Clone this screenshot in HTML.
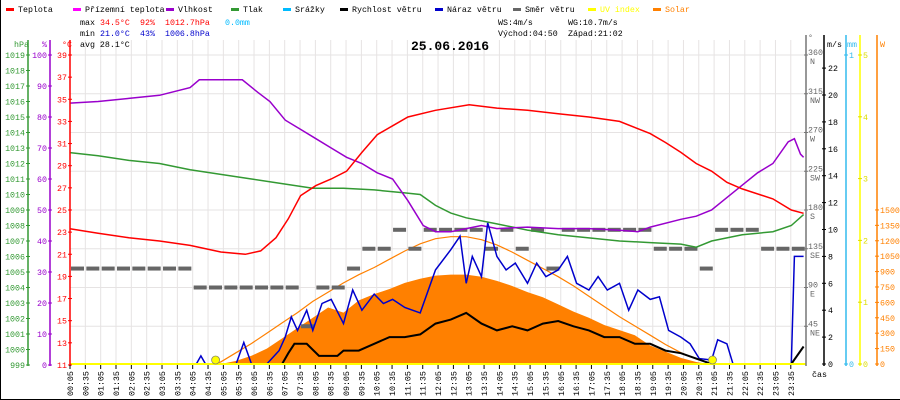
<!DOCTYPE html>
<html><head><meta charset="utf-8"><style>
body{margin:0;background:#fff;}
svg{display:block;font-family:"Liberation Mono",monospace;font-size:8.3px;}
</style></head><body>
<svg id="c" width="900" height="400" xmlns="http://www.w3.org/2000/svg">
<rect width="900" height="400" fill="#fff"/>
<g id="grid"></g>
<g id="series"></g>
<g id="axes"></g>
<g id="legend"></g>
<g>
<text x="80" y="25" fill="#000">max</text><text x="100" y="25" fill="#f00">34.5°C</text><text x="140" y="25" fill="#f00">92%</text><text x="165" y="25" fill="#f00">1012.7hPa</text><text x="225" y="25" fill="#0bf">0.0mm</text>
<text x="80" y="36" fill="#000">min</text><text x="100" y="36" fill="#00c">21.0°C</text><text x="140" y="36" fill="#00c">43%</text><text x="165" y="36" fill="#00c">1006.8hPa</text>
<text x="80" y="47" fill="#000">avg 28.1°C</text>
<text x="498" y="25" fill="#000">WS:4m/s</text><text x="568" y="25" fill="#000">WG:10.7m/s</text>
<text x="498" y="36" fill="#000">Východ:04:50</text><text x="568" y="36" fill="#000">Západ:21:02</text>
<text x="450" y="50" text-anchor="middle" font-size="13" font-weight="bold" fill="#000">25.06.2016</text>
</g>
</svg>
<script>
const tempT=[0.08,1,2,3,4,5,5.8,6.3,6.8,7.2,7.6,8.1,8.6,9.1,9.6,10.1,10.6,11.1,12,13.1,14,15,16,17,18,19,19.5,20,20.5,21,21.5,22,23,23.6,24];
const tempV=[23.3,22.9,22.5,22.2,21.8,21.2,21.0,21.3,22.5,24.2,26.3,27.2,27.8,28.5,30.2,31.8,32.6,33.4,34,34.5,34.2,34,33.7,33.4,33,31.9,31.1,30.2,29.2,28.5,27.5,26.9,26,25,24.7];
const humT=[0.08,1,2,3,4,4.3,5.7,6.2,6.6,7.1,7.6,8.1,8.6,9.1,9.6,10.1,10.6,11.1,11.6,12,12.5,13,13.5,14,15,16,17,18,18.6,19,20,20.5,21,21.5,22,22.5,23,23.5,23.7,23.9,24];
const humV=[84.5,85,86,87,89.5,92,92,88,85,79,76,73,70,67,65,62,60,53,45,43,43,44,45,44,44.5,44,44,43.5,43,44.5,47,48,50,54,58,62,65,72,73,68,67];
const presT=[0.08,1,2,3,4,5,6,7,8,9,10,11,11.5,12,12.5,13,14,15,16,17,18,19,20,20.5,21,22,23,23.6,24];
const presV=[1012.7,1012.5,1012.2,1012,1011.6,1011.3,1011,1010.7,1010.4,1010.4,1010.3,1010.1,1010,1009.3,1008.8,1008.5,1008.1,1007.7,1007.4,1007.2,1007,1006.9,1006.8,1006.6,1007,1007.4,1007.6,1008,1008.7];
const wsT=[0.08,7,7.2,7.4,7.8,8.2,8.8,9,9.5,10,10.5,11,11.5,12,12.5,13,13.5,14,14.5,15,15.5,16,16.5,17,17.5,18,18.5,19,19.5,20,20.5,21,23.6,24];
const wsV=[0,0,0.8,1.5,1.5,0.6,0.6,1,1,1.5,2,2,2.2,3,3.3,3.8,3,2.5,2.8,2.5,3,3.2,2.8,2.5,2,2,1.5,1.5,1,0.8,0.4,0,0,1.3];
const wgT=[0.08,4.2,4.35,4.5,5.5,5.75,6,6.5,6.9,7.1,7.3,7.5,7.8,8,8.3,8.6,9,9.3,9.6,10,10.3,10.6,11,11.5,12,12.5,12.8,13,13.2,13.5,13.7,14,14.3,14.6,15,15.3,15.6,16,16.3,16.6,17,17.3,17.6,18,18.3,18.6,19,19.3,19.6,20,20.3,20.6,21,21.2,21.5,21.7,23.6,23.7,24];
const wgV=[0,0,0.6,0,0,1.6,0,0,1,2,3.5,2.5,4,2.5,4.5,4.8,3,5.5,4,5.2,4.5,4.8,4.2,3.8,7,8.5,9.5,6,8,6.5,10.5,8,7,7.5,6,7.5,6.5,7,8,6,5.5,6.5,5.5,6,4,5.5,4.8,5,2.5,2,1.5,0.4,0.3,1.8,1.5,0,0,8,8];
const solT=[5,5.5,6,6.5,7,7.5,8,8.5,9,9.5,10,10.5,11,11.5,12,12.5,13,13.5,14,14.5,15,15.5,16,16.5,17,17.5,18,18.5,19,19.5,20,20.5,20.9];
const solV=[0,30,80,150,250,350,450,550,500,620,680,730,790,830,860,870,870,850,810,760,700,650,580,510,450,380,330,280,180,120,60,20,0];
const theoT=[4.83,5,5.5,6,6.5,7,7.5,8,8.5,9,9.5,10,10.5,11,11.5,12,12.5,13,13.5,14,14.5,15,15.5,16,16.5,17,17.5,18,18.5,19,19.5,20,20.5,21.03];
const theoV=[0,20,110,200,300,400,500,610,700,790,870,940,1020,1100,1170,1220,1240,1240,1210,1160,1090,1010,930,850,760,660,560,460,370,280,190,110,50,0];
const dirV=[112,112,112,112,112,112,112,112,90,90,90,90,90,90,90,45,90,90,112,135,135,157,135,157,157,157,157,135,157,135,157,112,157,157,157,157,157,157,135,135,135,112,157,157,157,135,135,135];
const tickLabels=[];for(let i=0;i<48;i++){const m=5+i*30;tickLabels.push(String(Math.floor(m/60)).padStart(2,'0')+':'+String(m%60).padStart(2,'0'));}
const sunrise=4.83, sunset=21.03;

const NS='http://www.w3.org/2000/svg';
const xT=h=>70+(h*60-5)/5*2.556;
const yC=c=>55+(39-c)*11.07;
const yHm=p=>55+(100-p)*3.1;
const yP=p=>55+(1019-p)*15.5;
const yW=v=>364-v*13.45;
const yS=w=>364-w*0.1027;
const yD=d=>365-d*310/360;
function el(tag,attrs,parent){const e=document.createElementNS(NS,tag);for(const k in attrs)e.setAttribute(k,attrs[k]);parent.appendChild(e);return e;}
const G=document.getElementById('grid'),S=document.getElementById('series'),A=document.getElementById('axes'),L=document.getElementById('legend');
// grid
for(let i=0;i<48;i++){const x=xT((5+i*30)/60);const l=el('line',{x1:x,x2:x,y1:40,y2:365,stroke:'#e6e3e3'},G);}
for(let d=45;d<=360;d+=45){const y=yD(d);const l=el('line',{x1:70,x2:806,y1:y,y2:y,stroke:'#e6e3e3'},G);}
// solar area
{let p='M'+xT(solT[0])+','+yS(0);solT.forEach((t,i)=>p+=' L'+xT(t)+','+yS(solV[i]));p+=' L'+xT(solT[solT.length-1])+','+yS(0)+'Z';const e=el('path',{d:p,fill:'#ff8000'},S);}
function line(T,V,fy,col,name,w){const d=T.map((t,i)=>(i?'L':'M')+xT(t).toFixed(1)+','+fy(V[i]).toFixed(1)).join(' ');const e=el('path',{d:d,fill:'none',stroke:col,'stroke-width':w||1.5},S);}
line(theoT,theoV,yS,'#ff8000','solar-theoretical-line',1.2);
// direction
dirV.forEach((d,i)=>{if(d==null)return;const x=xT((5+i*30)/60);const r=el('rect',{x:x+1,y:yD(d)-2,width:13,height:4,fill:'#666'},S);});
line(presT,presV,yP,'#339933','pressure-line');
line(humT,humV,yHm,'#9900cc','humidity-line');
line(tempT,tempV,yC,'#f00','temperature-line');
line(wgT,wgV,yW,'#0000cc','wind-gust-line');
line(wsT,wsV,yW,'#000','wind-speed-line',2);
{const e=el('line',{x1:70,x2:806,y1:364,y2:364,stroke:'#ff0','stroke-width':2},S);}
[sunrise,sunset].forEach(t=>{const c=el('circle',{cx:xT(t),cy:360,r:4,fill:'#ff0',stroke:'#886','stroke-width':0.8},S);});
// axes
function vaxis(x,col,top,bot,name){const e=el('line',{x1:x,x2:x,y1:top,y2:bot,stroke:col,'stroke-width':1.5},A);}
function tick(x,y,col,txt,anchor,tx){el('line',{x1:x-2,x2:x+2,y1:y,y2:y,stroke:col},A);if(txt!==null){const t=el('text',{x:tx,y:y+3,fill:col,'text-anchor':anchor},A);t.textContent=txt;}}
vaxis(28,'#339933',40,366,'pressure-axis');vaxis(50,'#9900cc',40,366,'humidity-axis');vaxis(70,'#f00',40,366,'temperature-axis');
for(let p=999;p<=1019;p++)tick(28,yP(p),'#339933',String(p),'end',25);
for(let h=0;h<=100;h+=10)tick(50,yHm(h),'#9900cc',String(h),'end',47);
for(let c=11;c<=39;c+=2)tick(70,yC(c),'#f00',String(c),'end',67);
[['hPa',14,'#339933'],['%',42,'#9900cc'],['°C',62,'#f00']].forEach(a=>{const t=el('text',{x:a[1],y:47,fill:a[2]},A);t.textContent=a[0];});
vaxis(806,'#777',35,366,'direction-axis');vaxis(824,'#000',35,366,'wind-speed-axis');vaxis(846,'#33bbee',35,366,'rain-axis');vaxis(860,'#ff0',35,366,'uv-axis');vaxis(877,'#ff8000',35,366,'solar-axis');
const dn={45:'NE',90:'E',135:'SE',180:'S',225:'SW',270:'W',315:'NW',360:'N'};
for(let d=45;d<=360;d+=45){const y=yD(d);el('line',{x1:804,x2:808,y1:y,y2:y,stroke:'#777'},A);const t=el('text',{x:808,y:y,fill:'#666'},A);t.textContent=String(d);const t2=el('text',{x:810,y:y+9,fill:'#666'},A);t2.textContent=dn[d];}
for(let v=0;v<=22;v+=2)tick(824,yW(v),'#000',String(v),'start',828);
tick(846,yS(0),'#33bbee','0','start',849);tick(846,55,'#33bbee','1','start',849);
for(let u=0;u<=5;u++)tick(860,364-u*61.8,'#dd0',String(u),'start',863);
for(let w=0;w<=1500;w+=150)tick(877,yS(w),'#ff8000',String(w),'start',880);
[['°',808,40,'#666'],['m/s',827,47,'#000'],['mm',847,47,'#33bbee'],['W',880,47,'#ff8000']].forEach(a=>{const t=el('text',{x:a[1],y:a[2],fill:a[3]},A);t.textContent=a[0];});
tickLabels.forEach((lb,i)=>{const x=xT((5+i*30)/60);el('line',{x1:x,x2:x,y1:365,y2:369,stroke:'#000'},A);const t=el('text',{x:0,y:0,fill:'#000',transform:'translate('+(x+3)+',396) rotate(-90)'},A);t.textContent=lb;});
{const t=el('text',{x:812,y:377,fill:'#000'},A);t.textContent='čas';}
el('line',{x1:0,x2:900,y1:399.5,y2:399.5,stroke:'#000'},A);
el('line',{x1:0.5,x2:0.5,y1:0,y2:400,stroke:'#000'},A);
// legend
const leg=[['Teplota','#f00',3],['Přízemní teplota','#f0f',70],['Vlhkost','#9900cc',163],['Tlak','#339933',228],['Srážky','#00bbff',280],['Rychlost větru','#000',337],['Náraz větru','#0000cc',432],['Směr větru','#666',510],['UV index','#ff0',585],['Solar','#ff8000',650]];
leg.forEach(l=>{const g=el('g',{},L);el('rect',{x:l[2]+3,y:8,width:8,height:3,fill:l[1]},g);const t=el('text',{x:l[2]+15,y:12,fill:(l[0]==='UV index'||l[0]==='Solar')?l[1]:'#000'},g);t.textContent=l[0];});
</script>
</body></html>
